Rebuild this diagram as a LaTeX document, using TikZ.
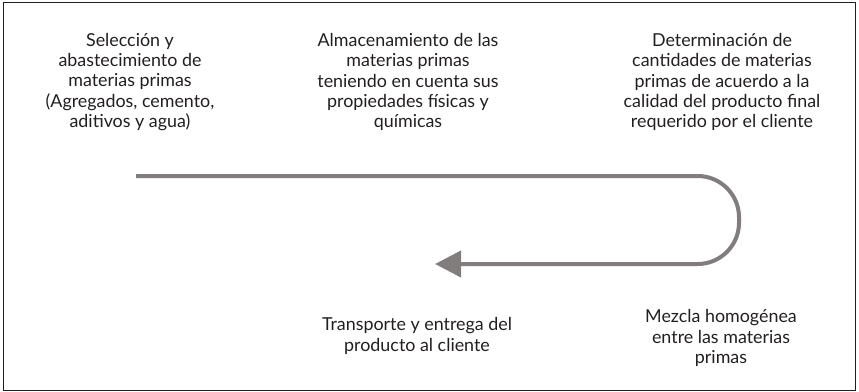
\documentclass[tikz,border=0pt]{standalone}
\usepackage{fontspec}
\setmainfont{Lato}
\usetikzlibrary{arrows.meta}
\definecolor{flowgray}{HTML}{817D7D}
\definecolor{txt}{HTML}{231F20}
\tikzset{
  lbl/.style={align=center, text=txt, inner sep=0pt, font=\fontsize{13.4pt}{15.2pt}\selectfont},
  flow/.style={draw=flowgray, line width=3pt, rounded corners=31pt, -{Triangle[length=19.5pt,width=19.5pt]}},
}
\begin{document}
\begin{tikzpicture}[x=0.75pt,y=-0.75pt]
\useasboundingbox (0,0) rectangle (859,392);
\draw[line width=1.1pt, draw=txt] (3.5,2.5) rectangle (855.5,390.5);
\node[lbl] (sel) at (130,82) {Selección y\\abastecimiento de\\materias primas\\(Agregados, cemento,\\aditivos y agua)};
\node[lbl] (alm) at (408,82) {Almacenamiento de las\\materias primas\\teniendo en cuenta sus\\propiedades físicas y\\químicas};
\node[lbl] (det) at (722,82) {Determinación de\\cantidades de materias\\primas de acuerdo a la\\calidad del producto final\\requerido por el cliente};
\node[lbl] (tra) at (417,336) {Transporte y entrega del\\producto al cliente};
\node[lbl] (mez) at (721,338) {Mezcla homogénea\\entre las materias\\primas};
\coordinate (start) at (136,176);
\coordinate (c1) at (739,176);
\coordinate (c2) at (739,264);
\coordinate (tip) at (435,264);
\draw[flow] (start) -- (c1) -- (c2) -- (tip);
\end{tikzpicture}
\end{document}
